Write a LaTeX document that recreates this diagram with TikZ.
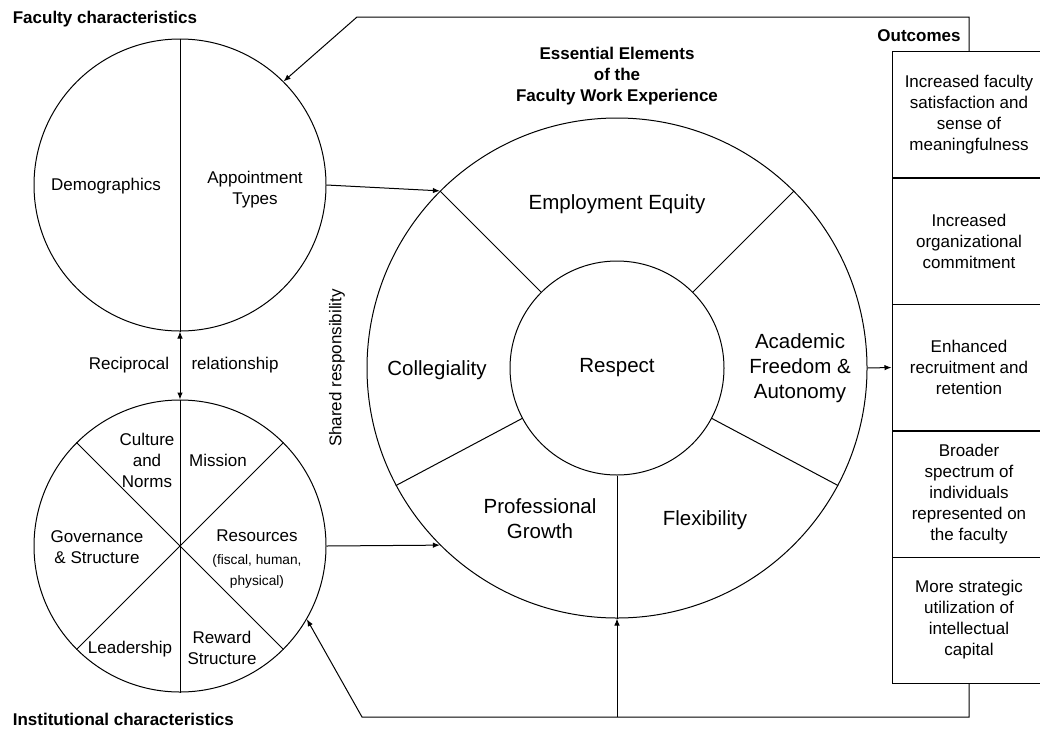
\documentclass[tikz,border=0pt]{standalone}
\usepackage{fontspec}
\setmainfont{Liberation Sans}
\usetikzlibrary{arrows.meta}
\newcommand{\fsz}[2]{\fontsize{#1}{#2}\selectfont}

\begin{document}
\begin{tikzpicture}[x=1pt, y=-1pt, line width=1pt, >={Latex[length=7pt,width=5.5pt]},
		txt/.style={align=center, font=\fsz{17}{21}},
		bigtxt/.style={align=center, font=\fsz{20.5}{25}},
		head/.style={align=center, font=\bfseries\fsz{17}{21}},
		outbox/.style={draw, minimum width=154pt, minimum height=126pt, inner sep=0pt, align=center, font=\fsz{17}{21}},
		ring/.style={circle, draw, inner sep=0pt}]
		\useasboundingbox (0,0) rectangle (1040,731);
		\clip (0,0) rectangle (1040,731);
		
		%headings
		\node[head, anchor=west] (fachead) at (9,19) {Faculty characteristics};
		\node[head, anchor=west] (insthead) at (9,719) {Institutional characteristics};
		\node[head] (esshead) at (617,76) {Essential Elements\\of the\\Faculty Work Experience};
		\node[head] (outhead) at (919,36) {Outcomes};
		
		%circles
		\node[ring, minimum size=292pt] (fac) at (180,185) {};
		\node[ring, minimum size=292pt] (inst) at (180,546) {};
		\node[ring, minimum size=500pt] (elem) at (617,368) {};
		\node[ring, minimum size=214pt, bigtxt] (resp) at (617,368) {Respect};
		
		\draw (fac.north) -- (fac.south);
		\foreach \a/\b in {90/270, 45/225, 135/315}{
			\draw (inst.\a) -- (inst.\b);
		}
		\foreach \a in {45, 135, 208, 270, 332}{
			\draw (resp.\a) -- (elem.\a);
		}
		
		%faculty characteristics
		\node[txt] (demo) at (106,186) {Demographics};
		\node[txt] (appt) at (255,190) {Appointment\\Types};
		
		%institutional characteristics
		\node[txt] (cult) at (147,460) {Culture\\and\\Norms};
		\node[txt] (miss) at (218,460) {Mission};
		\node[txt] (gov) at (97,547) {Governance\\\& Structure};
		\node[txt] (res) at (257,559) {Resources\\[2pt]\fsz{13.7}{17}(fiscal, human,\\\fsz{13.7}{17}physical)};
		\node[txt] (lead) at (130,649) {Leadership};
		\node[txt] (rew) at (222,648) {Reward\\Structure};
		
		\node[txt] (recip) at (129,365) {Reciprocal};
		\node[txt] (rel) at (235,365) {relationship};
		\node[txt, rotate=90] (shared) at (337,368) {Shared responsibility};
		
		%essential elements
		\node[bigtxt] (equity) at (617,204) {Employment Equity};
		\node[bigtxt] (coll) at (437,370) {Collegiality};
		\node[bigtxt] (acad) at (800,368) {Academic\\Freedom \&\\Autonomy};
		\node[bigtxt] (prof) at (540,519) {Professional\\Growth};
		\node[bigtxt] (flex) at (705,520) {Flexibility};
		
		%outcomes
		\node[outbox] (out1) at (969,114.5) {Increased faculty\\satisfaction and\\sense of\\meaningfulness};
		\node[outbox] (out2) at (969,241) {Increased\\organizational\\commitment};
		\node[outbox] (out3) at (969,367.5) {Enhanced\\recruitment and\\retention};
		\node[outbox] (out4) at (969,494) {Broader\\spectrum of\\individuals\\represented on\\the faculty};
		\node[outbox] (out5) at (969,620) {More strategic\\utilization of\\intellectual\\capital};
		
		%connectors
		\coordinate (topL) at (357,17);
		\coordinate (botL) at (362,717);
		\draw[<->] (fac.south) -- (inst.north);
		\draw[->] (fac.east) -- (elem.135);
		\draw[->] (inst.east) -- (elem.225);
		\draw[->] (elem.east) -- (out3.west);
		\draw[->] (out1.north) |- (topL) -- (fac.45);
		\draw[->] (out5.south) |- (botL) -- (inst.-30);
		\draw[->] (elem.south |- botL) -- (elem.south);
\end{tikzpicture}
\end{document}
